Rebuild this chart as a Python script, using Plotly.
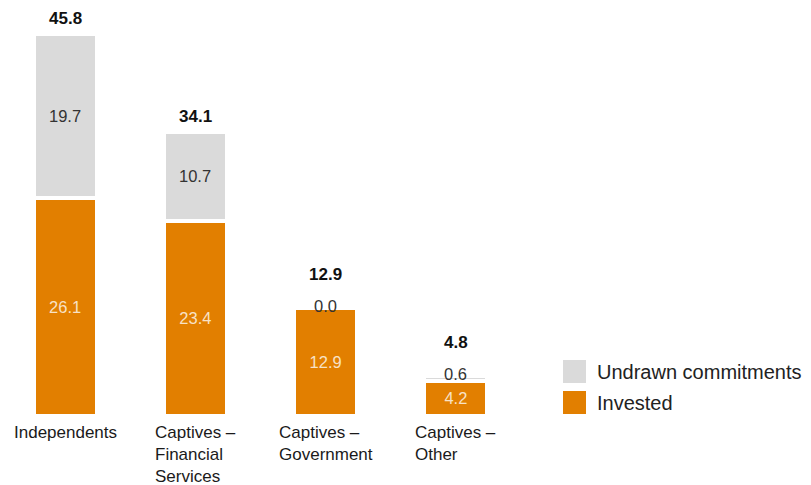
import plotly.graph_objects as go

# Data (USD bn)
categories = ["Independents", "Captives – Financial Services", "Captives – Government", "Captives – Other"]
category_labels = ["Independents", "Captives –<br>Financial<br>Services", "Captives –<br>Government", "Captives –<br>Other"]
invested = [26.1, 23.4, 12.9, 4.2]
undrawn = [19.7, 10.7, 0.0, 0.6]
totals = [45.8, 34.1, 12.9, 4.8]

series_names = ["Undrawn commitments", "Invested"]

# Styling
ORANGE = "#E27F00"
GREY = "#DADADA"
FONT = "Liberation Sans, Arial, sans-serif"

W, H = 811, 485
M_L, M_R, M_T, M_B = 0, 290, 7, 69
PLOT_W = W - M_L - M_R
PLOT_H = H - M_T - M_B
PX_PER_UNIT = 8.34
Y_MAX = PLOT_H / PX_PER_UNIT


def px_to_paper(px, py):
    return (px - M_L) / PLOT_W, (H - M_B - py) / PLOT_H


fig = go.Figure()

fig.add_trace(go.Bar(
    x=categories, y=invested, name="Invested",
    marker=dict(color=ORANGE, line=dict(color="white", width=4)),
    texttemplate="%{y:.1f}", textposition="inside", insidetextanchor="middle",
    textfont=dict(family=FONT, size=16.5, color="#F8E2C6"),
    showlegend=False, hoverinfo="skip",
))
fig.add_trace(go.Bar(
    x=categories, y=undrawn, name="Undrawn commitments",
    marker=dict(color=GREY, line=dict(color="white", width=4)),
    showlegend=False, hoverinfo="skip",
))

annotations = []
for cat, lab, inv, und, tot in zip(categories, category_labels, invested, undrawn, totals):
    small = und < 2
    # undrawn value label (sits on top of the stack when the segment is thin)
    annotations.append(dict(
        x=cat, y=(tot if small else inv + und / 2), xref="x", yref="y",
        text=f"{und:.1f}", showarrow=False, yanchor="middle",
        yshift=(2 if small else 0),
        font=dict(family=FONT, size=16.5, color="#333333"),
    ))
    # total label above the stack
    annotations.append(dict(
        x=cat, y=tot, xref="x", yref="y", text=f"<b>{tot:.1f}</b>",
        showarrow=False, yanchor="bottom", yshift=(22 if small else 4),
        font=dict(family=FONT, size=17, color="#111111"),
    ))
    # category label under the bar
    annotations.append(dict(
        x=cat, y=0, xref="x", yref="y", text=lab, showarrow=False,
        yanchor="top", yshift=-6, align="left", borderpad=0,
        font=dict(family=FONT, size=17, color="#1a1a1a"),
    ))

# Legend: swatches and names
shapes = []
legend_items = [(series_names[0], GREY, 360), (series_names[1], ORANGE, 391)]
for name, color, top in legend_items:
    x0, y0 = px_to_paper(563, top + 23)
    x1, y1 = px_to_paper(586, top)
    shapes.append(dict(type="rect", xref="paper", yref="paper",
                       x0=x0, y0=y0, x1=x1, y1=y1,
                       fillcolor=color, line=dict(width=0)))
    tx, ty = px_to_paper(595, top + 12)
    annotations.append(dict(
        x=tx, y=ty, xref="paper", yref="paper", text=name, showarrow=False,
        xanchor="left", yanchor="middle",
        font=dict(family=FONT, size=20, color="#222222"),
    ))

fig.update_layout(
    width=W, height=H,
    margin=dict(l=M_L, r=M_R, t=M_T, b=M_B),
    barmode="stack", bargap=0.516,
    plot_bgcolor="white", paper_bgcolor="white",
    xaxis=dict(showticklabels=False, showgrid=False, zeroline=False,
               showline=False, ticks="", fixedrange=True),
    yaxis=dict(range=[0, Y_MAX], visible=False, fixedrange=True),
    annotations=annotations, shapes=shapes,
    uniformtext=dict(mode=False),
)

fig.write_html("out.html")
